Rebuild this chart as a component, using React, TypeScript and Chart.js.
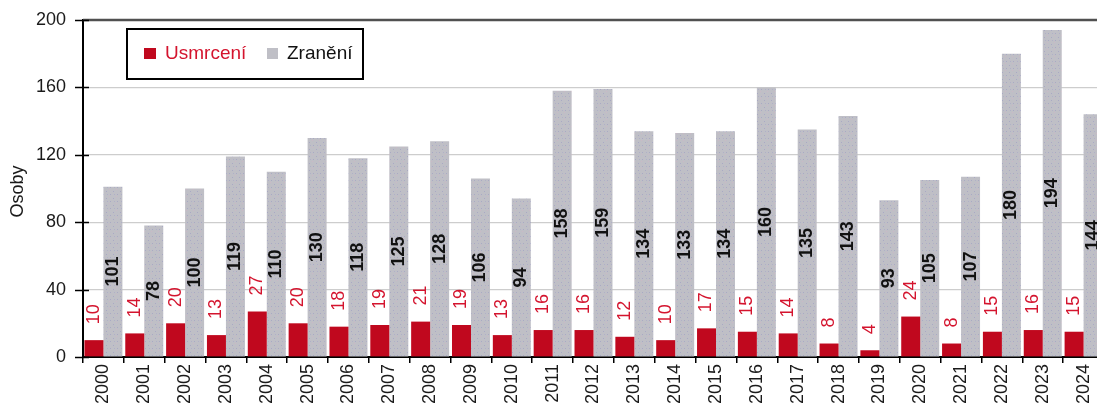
import React, { useEffect, useRef } from "react";
import { Chart, registerables } from "chart.js";

Chart.register(...registerables);

const years: string[] = [
  "2000", "2001", "2002", "2003", "2004", "2005", "2006", "2007", "2008", "2009",
  "2010", "2011", "2012", "2013", "2014", "2015", "2016", "2017", "2018", "2019",
  "2020", "2021", "2022", "2023", "2024",
];
const killed: number[] = [10, 14, 20, 13, 27, 20, 18, 19, 21, 19, 13, 16, 16, 12, 10, 17, 15, 14, 8, 4, 24, 8, 15, 16, 15];
const injured: number[] = [101, 78, 100, 119, 110, 130, 118, 125, 128, 106, 94, 158, 159, 134, 133, 134, 160, 135, 143, 93, 105, 107, 180, 194, 144];
const seriesNames: string[] = ["Usmrcení", "Zranění"];
const yTitle = "Osoby";

const FONT = "'Liberation Sans', Arial, sans-serif";
const RED = "#c0081e";
const RED_TEXT = "#d4142e";
const GRAY = "#bfbfc6";

function makePattern(): CanvasPattern | string {
  const c = document.createElement("canvas");
  c.width = 7;
  c.height = 7;
  const g = c.getContext("2d");
  if (!g) return GRAY;
  g.fillStyle = GRAY;
  g.fillRect(0, 0, 7, 7);
  g.fillStyle = "#a9a9c4";
  g.fillRect(1, 2, 1, 1);
  g.fillRect(5, 5, 1, 1);
  g.fillStyle = "#cbb8c6";
  g.fillRect(4, 0, 1, 1);
  g.fillStyle = "#b0b0c8";
  g.fillRect(2, 5, 1, 1);
  const p = g.createPattern(c, "repeat");
  return p || GRAY;
}

const decorPlugin = {
  id: "decor",
  afterDraw(chart: any) {
    const { ctx, chartArea, scales } = chart;
    const y = scales.y;
    ctx.save();
    // top border
    ctx.strokeStyle = "#505050";
    ctx.lineWidth = 2.5;
    ctx.beginPath();
    ctx.moveTo(chartArea.left, chartArea.top);
    ctx.lineTo(chartArea.right + 10, chartArea.top);
    ctx.stroke();
    // y ticks crossing the axis
    ctx.strokeStyle = "#000";
    ctx.lineWidth = 1.5;
    y.ticks.forEach((t: any) => {
      const py = Math.round(y.getPixelForValue(t.value)) + 0.5;
      ctx.beginPath();
      ctx.moveTo(chartArea.left - 8, py);
      ctx.lineTo(chartArea.left + 6, py);
      ctx.stroke();
    });
    // y title
    ctx.fillStyle = "#1a1a1a";
    ctx.font = `18px ${FONT}`;
    ctx.textAlign = "center";
    ctx.textBaseline = "middle";
    ctx.translate(18, (chartArea.top + chartArea.bottom) / 2 + 3);
    ctx.rotate(-Math.PI / 2);
    ctx.fillText(yTitle, 0, 0);
    ctx.restore();

    // legend
    ctx.save();
    const lx = chartArea.left + 44;
    const ly = chartArea.top + 9;
    const lw = 236;
    const lh = 50;
    ctx.fillStyle = "#fff";
    ctx.fillRect(lx, ly, lw, lh);
    ctx.strokeStyle = "#000";
    ctx.lineWidth = 2;
    ctx.strokeRect(lx, ly, lw, lh);
    const cy = ly + lh / 2;
    ctx.font = `19px ${FONT}`;
    ctx.textBaseline = "middle";
    ctx.textAlign = "left";
    ctx.fillStyle = RED;
    ctx.fillRect(lx + 17, cy - 6, 12, 11);
    ctx.fillStyle = RED_TEXT;
    ctx.fillText(seriesNames[0], lx + 38, cy);
    ctx.fillStyle = GRAY;
    ctx.fillRect(lx + 140, cy - 6, 11, 11);
    ctx.fillStyle = "#111";
    ctx.fillText(seriesNames[1], lx + 160, cy);
    ctx.restore();
  },
  afterDatasetsDraw(chart: any) {
    const { ctx } = chart;
    ctx.save();
    const m0 = chart.getDatasetMeta(0);
    const m1 = chart.getDatasetMeta(1);
    ctx.textBaseline = "middle";
    m0.data.forEach((el: any, i: number) => {
      ctx.save();
      ctx.translate(el.x, el.y - 16);
      ctx.rotate(-Math.PI / 2);
      ctx.font = `18px ${FONT}`;
      ctx.fillStyle = RED_TEXT;
      ctx.textAlign = "left";
      ctx.fillText(String(killed[i]), 0, 0);
      ctx.restore();
    });
    m1.data.forEach((el: any, i: number) => {
      ctx.save();
      ctx.translate(el.x, (el.y + el.base) / 2);
      ctx.rotate(-Math.PI / 2);
      ctx.font = `bold 18px ${FONT}`;
      ctx.fillStyle = "#111";
      ctx.textAlign = "center";
      ctx.fillText(String(injured[i]), 0, 0);
      ctx.restore();
    });
    ctx.restore();
  },
};

export default function App() {
  const ref = useRef<HTMLCanvasElement | null>(null);

  useEffect(() => {
    if (!ref.current) return;
    const pattern = makePattern();
    const chart = new Chart(ref.current, {
      type: "bar",
      data: {
        labels: years,
        datasets: [
          { label: seriesNames[0], data: killed, backgroundColor: RED, borderWidth: 0 },
          { label: seriesNames[1], data: injured, backgroundColor: pattern as any, borderWidth: 0 },
        ],
      },
      options: {
        responsive: false,
        animation: false,
        devicePixelRatio: 1,
        layout: { padding: { top: 20, left: 0, right: 6, bottom: 0 } },
        datasets: { bar: { categoryPercentage: 0.93, barPercentage: 1 } },
        plugins: { legend: { display: false }, tooltip: { enabled: false }, title: { display: false } },
        scales: {
          x: {
            offset: true,
            grid: {
              offset: true,
              drawOnChartArea: false,
              drawTicks: true,
              tickLength: 6,
              color: "#000",
              lineWidth: 1.5,
            },
            border: { display: true, color: "#000", width: 2 },
            ticks: {
              autoSkip: false,
              minRotation: 90,
              maxRotation: 90,
              padding: 1,
              color: "#1a1a1a",
              font: { family: FONT, size: 18 },
            },
            afterFit: (s: any) => {
              s.height = 50;
              s.paddingLeft = 0;
              s.paddingRight = 0;
              s.paddingTop = 0;
              s.paddingBottom = 0;
            },
          },
          y: {
            min: 0,
            max: 200,
            ticks: {
              stepSize: 40,
              padding: 17,
              color: "#1a1a1a",
              font: { family: FONT, size: 18 },
            },
            grid: {
              drawTicks: false,
              lineWidth: 1.2,
              color: (c: any) =>
                c.tick && (c.tick.value === 0 || c.tick.value === 200) ? "rgba(0,0,0,0)" : "#cdcdcd",
            },
            border: { display: true, color: "#000", width: 2 },
            afterFit: (s: any) => {
              s.width = 83;
              s.paddingTop = 0;
              s.paddingBottom = 0;
              s.paddingLeft = 0;
              s.paddingRight = 0;
            },
          },
        },
      },
      plugins: [decorPlugin],
    });
    return () => chart.destroy();
  }, []);

  return (
    <div
      style={{
        position: "fixed",
        left: 0,
        top: 0,
        width: 1097,
        height: 407,
        overflow: "hidden",
        background: "#fff",
      }}
    >
      <canvas ref={ref} width={1110} height={407} style={{ display: "block", width: 1110, height: 407 }} />
    </div>
  );
}
